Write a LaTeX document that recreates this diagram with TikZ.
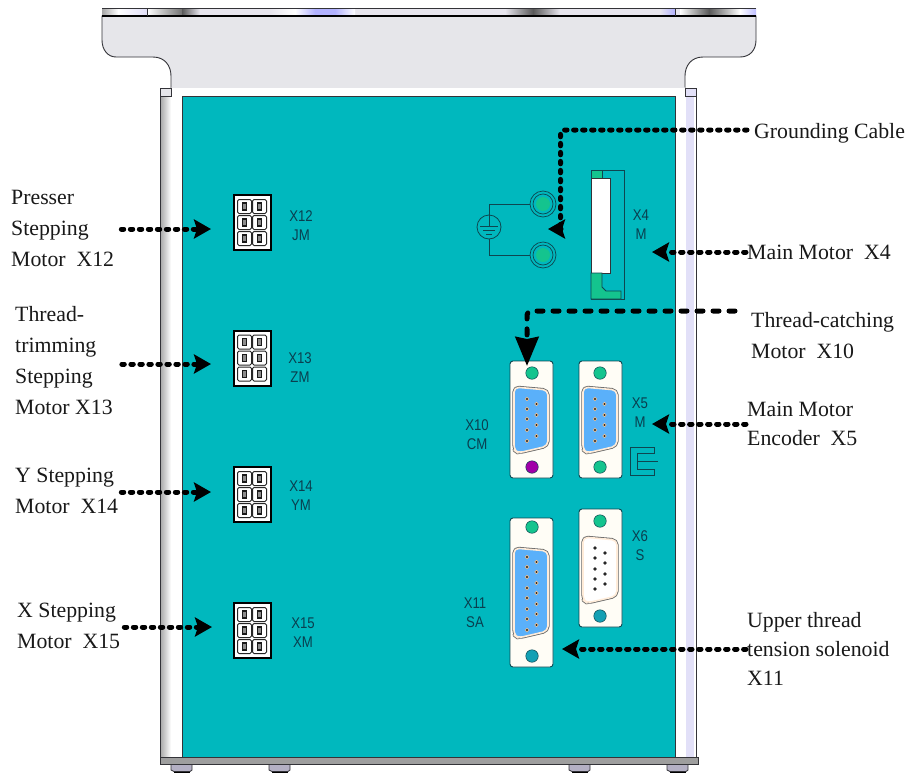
\documentclass[tikz,border=0pt]{standalone}
\usepackage{fontspec}
\setmainfont{Liberation Serif}
\newfontfamily\panelfont[FakeStretch=0.85]{Liberation Sans}
\usepackage{xcolor}
\usepackage{tikz}
\usetikzlibrary{arrows.meta}
\definecolor{panelteal}{HTML}{00B8BE}
\definecolor{platebody}{HTML}{E6E6EA}
\definecolor{stripbase}{HTML}{E8E6EE}
\definecolor{lavender}{HTML}{E2E0F8}
\definecolor{darkline}{HTML}{333338}
\definecolor{plateline}{HTML}{0E4650}
\definecolor{porttext}{HTML}{0A3F4F}
\definecolor{screwgreen}{HTML}{14C48E}
\definecolor{screwteal}{HTML}{14A0B4}
\definecolor{screwpurple}{HTML}{A000A8}
\definecolor{portblue}{HTML}{5AB0FA}
\definecolor{platecream}{HTML}{FFFDF6}
\definecolor{footgrey}{HTML}{B4B0C4}
\tikzset{
  callout/.style={font=\fontsize{21.8}{31}\selectfont,align=left,anchor=west,inner sep=0pt,text=black!90},
  porttag/.style={font=\panelfont\fontsize{15.5}{19}\selectfont,align=center,inner sep=0pt,text=porttext},
  wire/.style={line width=5pt,line cap=round,dash pattern=on 2.4pt off 6.6pt,black},
  longwire/.style={line width=5pt,line cap=round,dash pattern=on 6pt off 10pt,black},
  tip/.style={-{Stealth[length=17pt,width=19pt,inset=3pt,line cap=butt]}},
  bigtip/.style={-{Stealth[length=29pt,width=23pt,inset=2pt,line cap=butt]}},
  molex/.style={draw=black,line width=2pt,fill=white,minimum width=37pt,minimum height=55pt,inner sep=0pt},
  molexcell/.style={draw=black!85,line width=1pt,fill=white,rounded corners=1.5pt,minimum size=14pt,inner sep=0pt},
  molexpin/.style={draw=black!90,fill=black!45,line width=1.3pt,minimum width=4.5pt,minimum height=7pt,inner sep=0pt},
  dplate/.style={draw=plateline,line width=.9pt,fill=platecream,rounded corners=3pt,minimum width=43pt,inner sep=0pt},
  screw/.style={circle,draw=plateline,line width=.5pt,minimum size=12.5pt,inner sep=0pt},
  stud/.style={circle,draw=plateline,line width=.7pt,minimum size=26pt,inner sep=0pt},
  thinwire/.style={draw=plateline,line width=.9pt},
  pinspot/.style={fill=black!85,draw=white!55!orange,line width=.5pt}
}
\newcommand{\dshell}[4]{
  \draw[black!60,line width=3.2pt,line join=round,rounded corners=5pt] (#2,#3+2) -- (#2+34,#3+5) -- (#2+34,#4-7) -- (#2+4,#4) -- (#2,#4-3) -- cycle;
  \draw[fill=#1,draw=white!85!orange,line width=1.6pt,line join=round,rounded corners=5pt] (#2,#3+2) -- (#2+34,#3+5) -- (#2+34,#4-7) -- (#2+4,#4) -- (#2,#4-3) -- cycle;
}
\begin{document}
\begin{tikzpicture}[x=1pt,y=-1pt]
\useasboundingbox (0,0) rectangle (910,774);
\fill[white] (0,0) rectangle (910,774);

\draw[fill=platebody,draw=darkline,line width=.9pt] (102,16) -- (102,40) .. controls (102,50) and (108,57) .. (116,57) -- (153,57) .. controls (165,57) and (171,66) .. (171,76) -- (171,96) -- (685,96) -- (685,76) .. controls (685,66) and (691,57) .. (703,57) -- (740,57) .. controls (750,57) and (756,50) .. (756,40) -- (756,16) -- cycle;
\shade[top color=platebody,bottom color=black!60] (171.5,87) rectangle (684.5,95.5);
\fill[stripbase] (102,8) rectangle (756,16);
\shade[left color=black!35,right color=white] (102,8.5) rectangle (118,15.5);
\shade[left color=white,right color=lavender] (118,8.5) rectangle (147,15.5);
\shade[left color=white,right color=black!55] (147,8.5) rectangle (182,15.5);
\shade[left color=black!65,right color=stripbase] (182,8.5) rectangle (200,15.5);
\shade[left color=stripbase,right color=white] (270,8.5) rectangle (295,15.5);
\shade[left color=white,right color=blue!30] (295,8.5) rectangle (315,15.5);
\shade[left color=blue!30,right color=white] (335,8.5) rectangle (355,15.5);
\fill[blue!30] (315,8.5) rectangle (335,15.5);
\shade[left color=stripbase,right color=black!65] (505,8.5) rectangle (533,15.5);
\shade[left color=black!65,right color=stripbase] (533,8.5) rectangle (560,15.5);
\shade[left color=stripbase,right color=blue!30] (660,8.5) rectangle (675,15.5);
\shade[left color=white,right color=black!65] (680,8.5) rectangle (709,15.5);
\shade[left color=black!65,right color=white] (709,8.5) rectangle (740,15.5);
\shade[left color=white,right color=blue!25] (740,8.5) rectangle (756,15.5);
\draw[darkline,line width=.9pt] (102,8) -- (756,8);
\draw[black,line width=1.1pt] (102,16) -- (756,16);
\draw[darkline,line width=.7pt] (147,8) -- (147,16);
\draw[darkline,line width=.7pt] (675,8) -- (675,16);

\fill[white] (160,88) rectangle (696,764);
\shade[left color=black!35,right color=white] (160,96) rectangle (171,764);
\fill[lavender] (686,96) rectangle (694,764);
\draw[fill=platebody,draw=darkline,line width=.8pt] (160,96) -- (160,88) -- (171,88) -- (171,96) -- cycle;
\draw[fill=lavender,draw=darkline,line width=.8pt] (685,96) -- (685,88) -- (696,88) -- (696,96) -- cycle;
\draw[fill=panelteal,draw=darkline,line width=.9pt] (182,96) rectangle (675,764);
\draw[darkline,line width=.9pt] (160,88) -- (160,764);
\draw[darkline,line width=.9pt] (696,88) -- (696,764);

\foreach \footx in {171,269,569,667}{
  \fill[black] (\footx+3,770) rectangle (\footx+19,773);
  \draw[fill=footgrey,draw=darkline,line width=.8pt] (\footx,764) -- (\footx,770) -- (\footx+3,771.5) -- (\footx+19,771.5) -- (\footx+21,770) -- (\footx+21,764) -- cycle;
}
\draw[fill=black!38,draw=darkline,line width=1pt] (160,757) rectangle (698,764);

\foreach \name/\boxy in {jm/222.5,zm/358,ym/494.5,xm/630.5}{
  \node[molex] (\name) at (252,\boxy) {};
  \foreach \dx in {-7.5,7.5}
    \foreach \dy in {-16,0,16}{
      \node[molexcell] at (252+\dx,\boxy+\dy) {};
      \node[molexpin] at (252+\dx,\boxy+\dy) {};
    }
}
\node[porttag] (jmtag) at (301,225.5) {X12\\JM};
\node[porttag] (zmtag) at (300,367.5) {X13\\ZM};
\node[porttag] (ymtag) at (301,496) {X14\\YM};
\node[porttag] (xmtag) at (303,632.5) {X15\\XM};

\node[stud] (studtop) at (543,204) {};
\node[stud] (studlow) at (543,255) {};
\node[circle,draw=plateline,line width=.7pt,minimum size=20pt,inner sep=0pt] at (543,204) {};
\node[circle,draw=plateline,line width=.7pt,minimum size=20pt,inner sep=0pt] at (543,255) {};
\fill[screwgreen] (543,204) circle (7pt);
\fill[screwgreen] (543,255) circle (7pt);
\node[circle,draw=plateline,line width=.8pt,minimum size=24pt,inner sep=0pt] (earth) at (489,227) {};
\draw[thinwire] (earth.north) |- (studtop.west);
\draw[thinwire] (earth.south) |- (studlow.west);
\draw[thinwire] (earth.north) -- (489,226);
\draw[thinwire] (480,226) -- (498,226);
\draw[thinwire] (483,230) -- (495,230);
\draw[thinwire] (486,234) -- (492,234);

\node[draw=plateline,line width=.9pt,minimum width=33pt,minimum height=129pt,inner sep=0pt] (xiv) at (607.5,234.5) {};
\draw[fill=screwgreen,draw=plateline,line width=.8pt] (591,170) rectangle (602,178);
\draw[fill=white,draw=darkline,line width=.8pt] (591,178) rectangle (610,273);
\draw[fill=screwgreen,draw=plateline,line width=.8pt] (591,273) -- (602,273) -- (602,287) -- (606,291) -- (621,291) -- (621,299) -- (591,299) -- cycle;
\node[porttag] (xivtag) at (641,225) {X4\\M};

\node[dplate,minimum height=117pt] (xten) at (531.5,419.5) {};
\node[dplate,minimum height=117pt] (xfive) at (600.5,419.5) {};
\node[dplate,minimum height=149pt] (xeleven) at (531.5,592.5) {};
\node[dplate,minimum height=118pt] (xsix) at (600.5,568) {};
\dshell{portblue}{514}{385}{453}
\dshell{portblue}{583}{385}{453}
\dshell{portblue}{514}{546}{638}
\dshell{white}{583}{535}{603}
\foreach \sx/\sy/\scol in {532/373/screwgreen,532/467/screwpurple,600/373/screwgreen,600/467/screwgreen,532/527/screwgreen,532/656/screwteal,600/521/screwgreen,600/616/screwteal}
  \node[screw,fill=\scol] at (\sx,\sy) {};
\foreach \px in {527,595}{
  \foreach \py in {399,409,419,430,441}
    \draw[pinspot] (\px,\py) circle (1.7pt);
  \foreach \py in {404,415,425,436}
    \draw[pinspot] (\px+9.5,\py) circle (1.7pt);
}
\foreach \py in {557,567,577,588,598,609,619,630}
  \draw[pinspot] (527,\py) circle (1.7pt);
\foreach \py in {562,572,583,593,604,614,625}
  \draw[pinspot] (536.5,\py) circle (1.7pt);
\foreach \py in {548,558,569,579,589}
  \fill[black!85] (595,\py) circle (1.8pt);
\foreach \py in {553,563,574,584}
  \fill[black!85] (605,\py) circle (1.8pt);
\node[porttag] (xtentag) at (477,435) {X10\\CM};
\node[porttag] (xfivetag) at (640,412.5) {X5\\M};
\node[porttag] (xeleventag) at (475,612.5) {X11\\SA};
\node[porttag] (xsixtag) at (640,546) {X6\\S};
\draw[draw=plateline,line width=.9pt] (654,447) -- (630,447) -- (630,475) -- (654,475) -- (654,469) -- (637,469) -- (637,453) -- (654,453) -- cycle;
\draw[draw=plateline,line width=.9pt] (637,461) -- (658,461);

\node[callout] (presser) at (11,228) {Presser\\Stepping\\Motor\ \ X12};
\node[callout] (trimming) at (15,361) {Thread-\\trimming\\Stepping\\Motor X13};
\node[callout] (ystep) at (15,491) {Y Stepping\\Motor\ \ X14};
\node[callout] (xstep) at (17,626) {X Stepping\\Motor\ \ X15};
\node[callout] (grounding) at (754,133) {Grounding Cable};
\node[callout] (mainmotor) at (747,252) {Main Motor\ \ X4};
\node[callout] (catching) at (751,336) {Thread-catching\\Motor\ \ X10};
\node[callout,font=\fontsize{21.8}{29}\selectfont] (encoder) at (747,424) {Main Motor\\Encoder\ \ X5};
\node[callout,font=\fontsize{21.8}{29}\selectfont] (solenoid) at (747,649) {Upper thread\\tension solenoid\\X11};

\coordinate (jmtip) at (211,229);
\coordinate (zmtip) at (211,364);
\coordinate (ymtip) at (211,492);
\coordinate (xmtip) at (212,627);
\coordinate (groundstart) at (747,130);
\coordinate (groundbend) at (560.5,229);
\coordinate (groundtip) at (548,229);
\coordinate (xivtip) at (652,252);
\coordinate (catchstart) at (735,311);
\coordinate (catchbend) at (527,345);
\coordinate (catchtip) at (527,366);
\coordinate (encodertip) at (652,424);
\coordinate (solenoidtip) at (562,649);

\draw[wire,tip,shorten <=7pt] (jmtip -| presser.east) -- (jmtip);
\draw[wire,tip,shorten <=9pt] (zmtip -| trimming.east) -- (zmtip);
\draw[wire,tip,shorten <=3pt] (ymtip -| ystep.east) -- (ymtip);
\draw[wire,tip,shorten <=4pt] (xmtip -| xstep.east) -- (xmtip);
\draw[wire,tip,rounded corners=4pt] (groundstart) -| (groundbend) -- (groundtip);
\draw[wire,tip,shorten <=1pt] (mainmotor.west) -- (xivtip);
\draw[longwire,bigtip,rounded corners=4pt] (catchstart) -| (catchbend) -- (catchtip);
\draw[wire,tip,shorten <=1pt] (encoder.west) -- (encodertip);
\draw[wire,tip,shorten <=1pt] (solenoid.west) -- (solenoidtip);
\end{tikzpicture}
\end{document}
